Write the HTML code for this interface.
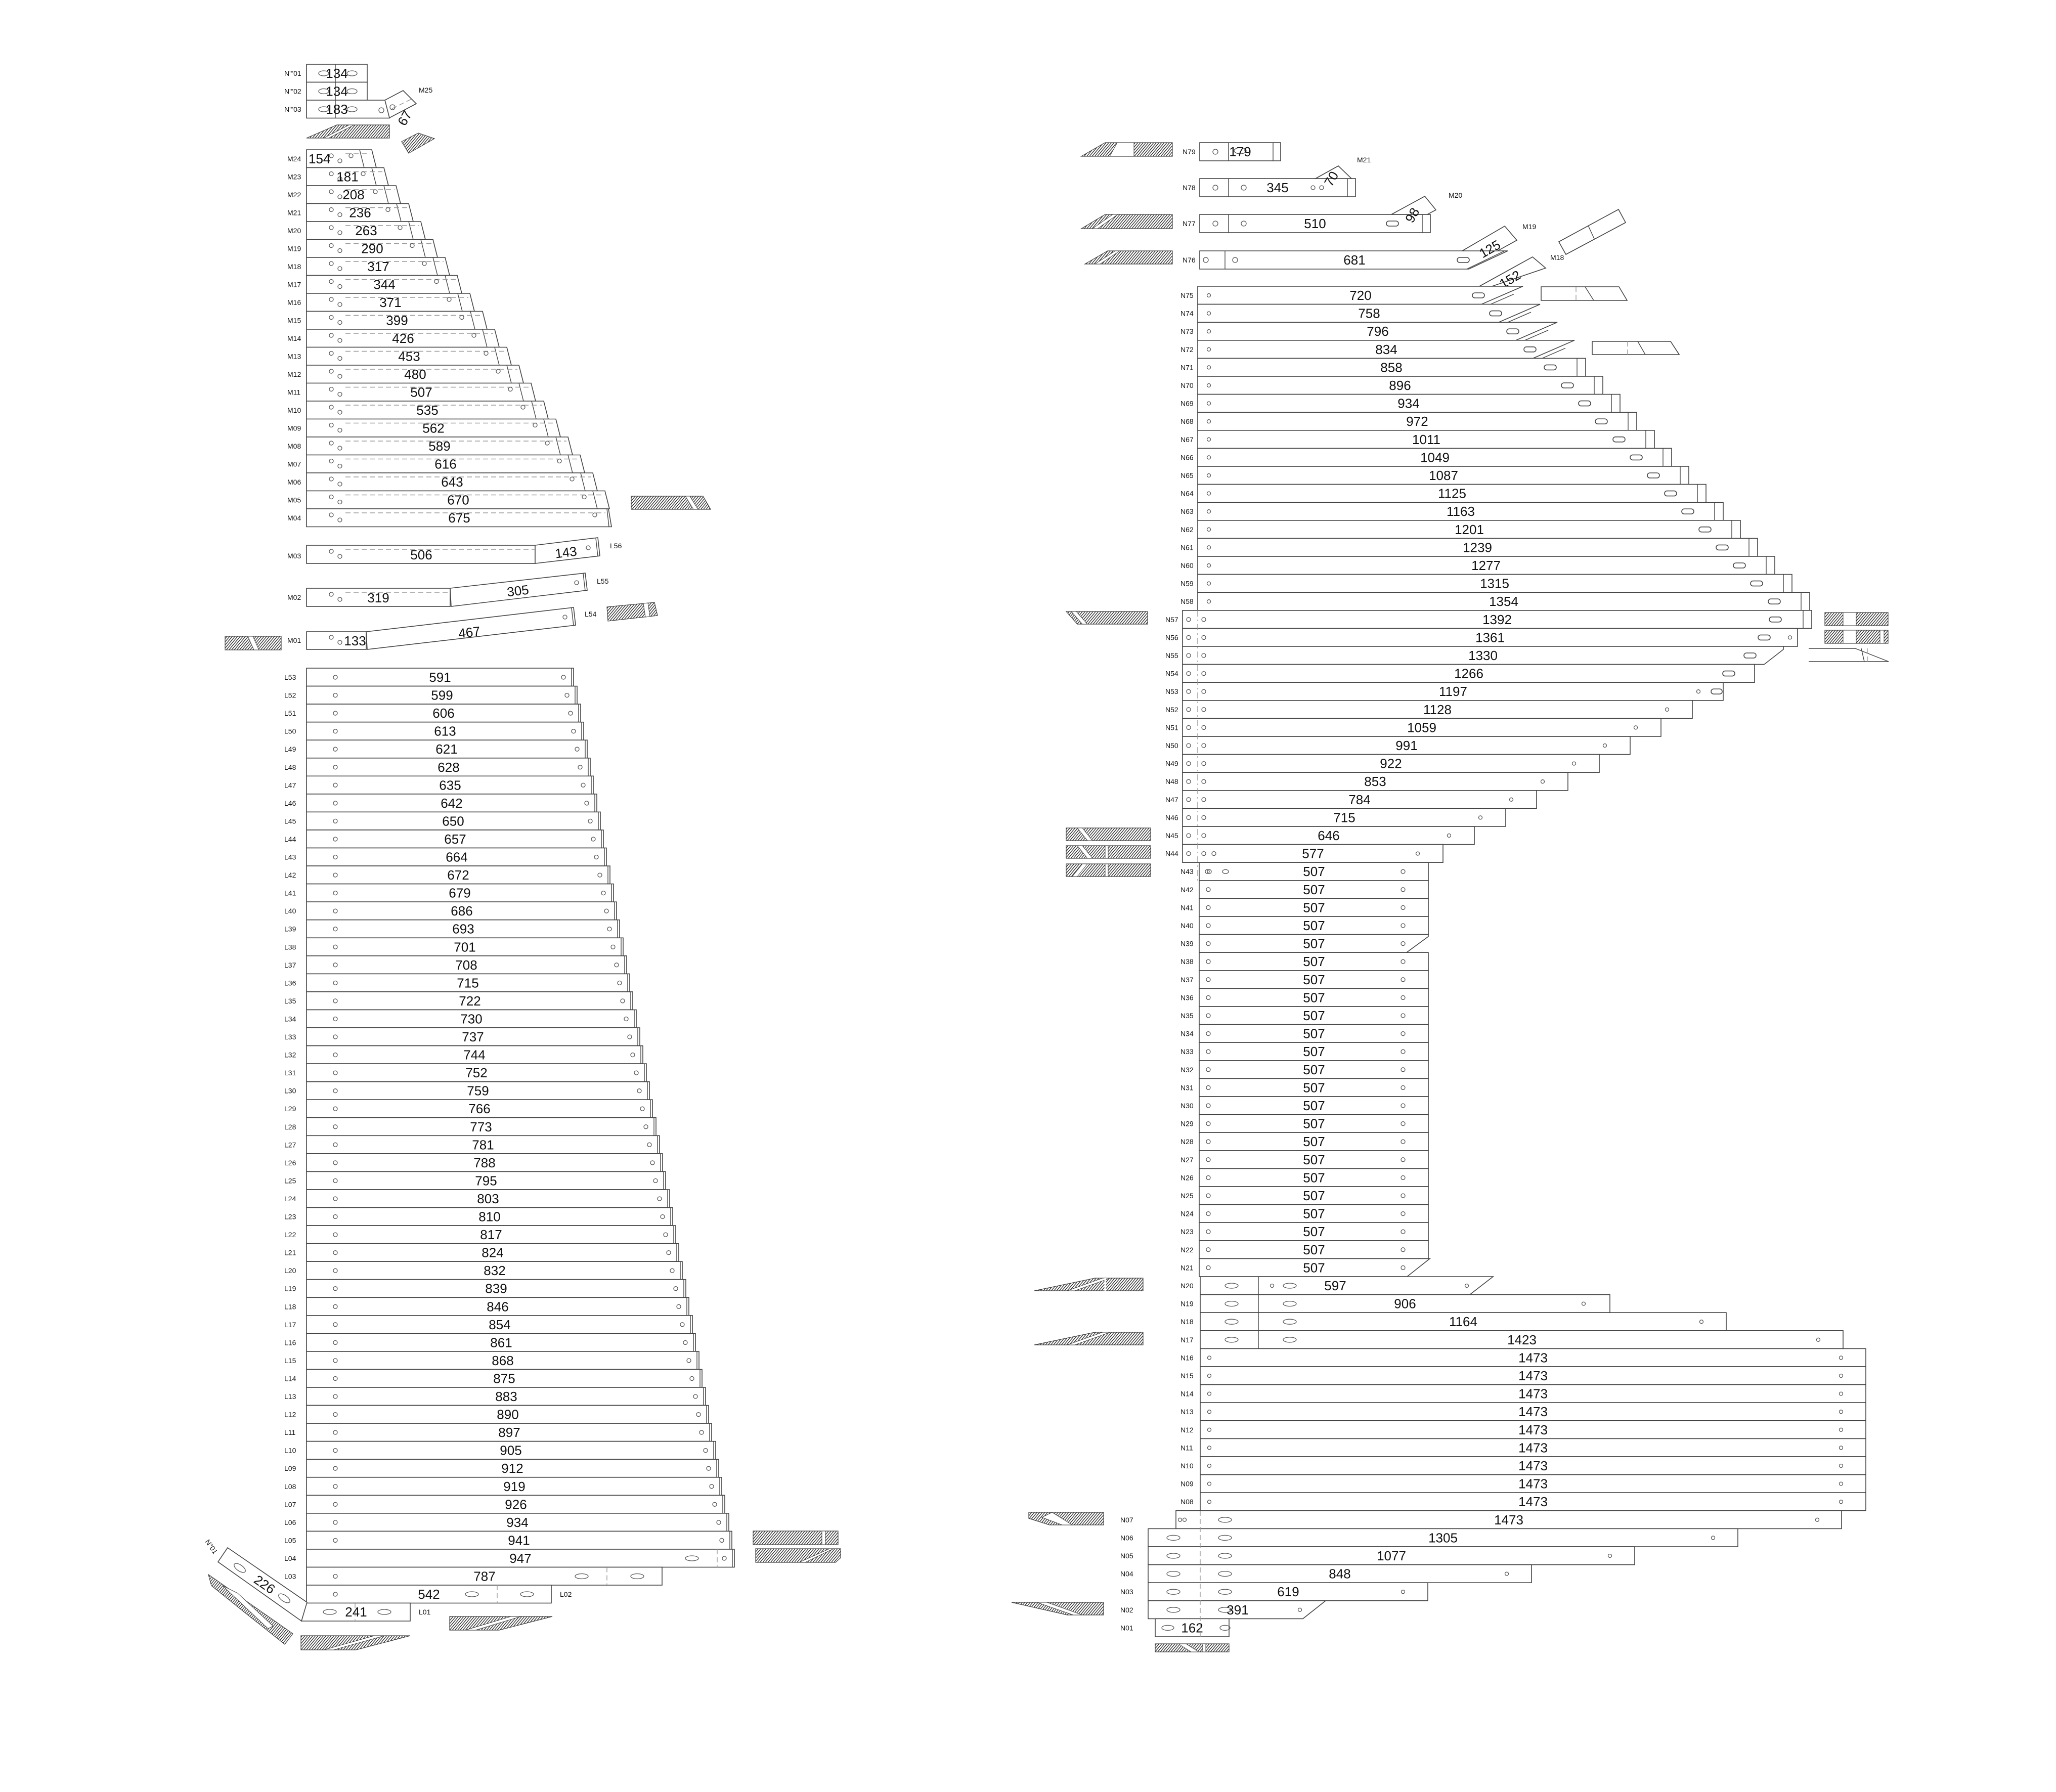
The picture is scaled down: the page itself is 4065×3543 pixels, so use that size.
<!DOCTYPE html>
<html><head><meta charset="utf-8">
<style>
html,body{margin:0;padding:0;background:#fff;}
svg{display:block;}
rect,polygon{fill:#fff;stroke:#444;stroke-width:1.6;}
line,polyline{stroke:#444;stroke-width:1.4;fill:none;}
line.d{stroke:#999;stroke-dasharray:10 6;}
circle,ellipse{fill:none;stroke:#555;stroke-width:1.3;}
.h{fill:url(#hp);stroke:#444;stroke-width:1.2;}
.w{fill:#fff;stroke:#444;stroke-width:1;}
text{font-family:"Liberation Sans",sans-serif;fill:#111;}
.n{font-size:26px;text-anchor:middle;}
.lb{font-size:14px;}
</style></head><body>
<svg width="4065" height="3543" viewBox="0 0 4065 3543" xmlns="http://www.w3.org/2000/svg">
<defs><pattern id="hp" patternUnits="userSpaceOnUse" width="4" height="4" patternTransform="rotate(40)"><rect width="4" height="4" style="fill:#fff;stroke:none"/><line x1="0" y1="0" x2="0" y2="4" style="stroke:#222;stroke-width:2.6"/></pattern></defs>

<!-- N''' rows -->
<g transform="translate(606,127)"><rect width="120" height="35.5"/><line x1="57" x2="57" y2="35.5"/><ellipse cx="34" cy="18" rx="10" ry="5"/><ellipse cx="90" cy="18" rx="10" ry="5"/><text class="n" x="60" y="27">134</text><text class="lb" x="-44" y="23">N'''01</text></g>
<g transform="translate(606,162.5)"><rect width="120" height="35.5"/><line x1="57" x2="57" y2="35.5"/><ellipse cx="34" cy="18" rx="10" ry="5"/><ellipse cx="90" cy="18" rx="10" ry="5"/><text class="n" x="60" y="27">134</text><text class="lb" x="-44" y="23">N'''02</text></g>
<g transform="translate(606,198)"><rect width="164" height="35.5"/><line x1="57" x2="57" y2="35.5"/><ellipse cx="34" cy="18" rx="10" ry="5"/><ellipse cx="90" cy="18" rx="10" ry="5"/><circle cx="148" cy="20" r="5"/><text class="n" x="60" y="27">183</text><text class="lb" x="-44" y="23">N'''03</text></g>
<polygon points="761,198 797,179 823,205 770,233"/><line class="d" x1="775" y1="215" x2="815" y2="195"/><circle cx="776" cy="212" r="5"/>
<text class="n" transform="translate(808,238) rotate(-60)" x="0" y="0">67</text>
<text class="lb" x="828" y="183">M25</text>
<polygon class="h" points="606,273 666,247 770,247 770,273"/><polygon class="w" points="640,273 690,247 700,247 650,273"/>
<polygon class="h" points="794,280 827,263 859,274 808,303"/>

<!-- M rows -->
<g transform="translate(606,296)"><polygon points="0,0 129,0 138,35.5 0,35.5"/><line x1="105" x2="114" y2="35.5"/><line class="d" x1="77" y1="8" x2="126" y2="8"/><circle cx="49" cy="12" r="4"/><circle cx="66" cy="22" r="4"/><circle cx="88" cy="12" r="4"/><text class="n" style="text-anchor:start" x="4" y="27">154</text><text class="lb" x="-38" y="23">M24</text></g>
<g transform="translate(606,331.5)"><polygon points="0,0 153,0 162,35.5 0,35.5"/><line x1="129" x2="138" y2="35.5"/><line class="d" x1="77" y1="8" x2="150" y2="8"/><circle cx="49" cy="12" r="4"/><circle cx="66" cy="22" r="4"/><circle cx="112" cy="12" r="4"/><text class="n" x="81" y="27">181</text><text class="lb" x="-38" y="23">M23</text></g>
<g transform="translate(606,367)"><polygon points="0,0 177,0 186,35.5 0,35.5"/><line x1="153" x2="162" y2="35.5"/><line class="d" x1="77" y1="8" x2="174" y2="8"/><circle cx="49" cy="12" r="4"/><circle cx="66" cy="22" r="4"/><circle cx="136" cy="12" r="4"/><text class="n" x="93" y="27">208</text><text class="lb" x="-38" y="23">M22</text></g>
<g transform="translate(606,402.5)"><polygon points="0,0 202,0 211,35.5 0,35.5"/><line x1="178" x2="187" y2="35.5"/><line class="d" x1="77" y1="8" x2="199" y2="8"/><circle cx="49" cy="12" r="4"/><circle cx="66" cy="22" r="4"/><circle cx="161" cy="12" r="4"/><text class="n" x="106" y="27">236</text><text class="lb" x="-38" y="23">M21</text></g>
<g transform="translate(606,438)"><polygon points="0,0 226,0 235,35.5 0,35.5"/><line x1="202" x2="211" y2="35.5"/><line class="d" x1="77" y1="8" x2="223" y2="8"/><circle cx="49" cy="12" r="4"/><circle cx="66" cy="22" r="4"/><circle cx="185" cy="12" r="4"/><text class="n" x="118" y="27">263</text><text class="lb" x="-38" y="23">M20</text></g>
<g transform="translate(606,473.5)"><polygon points="0,0 250,0 259,35.5 0,35.5"/><line x1="226" x2="235" y2="35.5"/><line class="d" x1="77" y1="8" x2="247" y2="8"/><circle cx="49" cy="12" r="4"/><circle cx="66" cy="22" r="4"/><circle cx="209" cy="12" r="4"/><text class="n" x="130" y="27">290</text><text class="lb" x="-38" y="23">M19</text></g>
<g transform="translate(606,509)"><polygon points="0,0 274,0 283,35.5 0,35.5"/><line x1="250" x2="259" y2="35.5"/><line class="d" x1="77" y1="8" x2="271" y2="8"/><circle cx="49" cy="12" r="4"/><circle cx="66" cy="22" r="4"/><circle cx="233" cy="12" r="4"/><text class="n" x="142" y="27">317</text><text class="lb" x="-38" y="23">M18</text></g>
<g transform="translate(606,544.5)"><polygon points="0,0 298,0 307,35.5 0,35.5"/><line x1="274" x2="283" y2="35.5"/><line class="d" x1="77" y1="8" x2="295" y2="8"/><circle cx="49" cy="12" r="4"/><circle cx="66" cy="22" r="4"/><circle cx="257" cy="12" r="4"/><text class="n" x="154" y="27">344</text><text class="lb" x="-38" y="23">M17</text></g>
<g transform="translate(606,580)"><polygon points="0,0 323,0 332,35.5 0,35.5"/><line x1="299" x2="308" y2="35.5"/><line class="d" x1="77" y1="8" x2="320" y2="8"/><circle cx="49" cy="12" r="4"/><circle cx="66" cy="22" r="4"/><circle cx="282" cy="12" r="4"/><text class="n" x="166" y="27">371</text><text class="lb" x="-38" y="23">M16</text></g>
<g transform="translate(606,615.5)"><polygon points="0,0 348,0 357,35.5 0,35.5"/><line x1="324" x2="333" y2="35.5"/><line class="d" x1="77" y1="8" x2="345" y2="8"/><circle cx="49" cy="12" r="4"/><circle cx="66" cy="22" r="4"/><circle cx="307" cy="12" r="4"/><text class="n" x="179" y="27">399</text><text class="lb" x="-38" y="23">M15</text></g>
<g transform="translate(606,651)"><polygon points="0,0 372,0 381,35.5 0,35.5"/><line x1="348" x2="357" y2="35.5"/><line class="d" x1="77" y1="8" x2="369" y2="8"/><circle cx="49" cy="12" r="4"/><circle cx="66" cy="22" r="4"/><circle cx="331" cy="12" r="4"/><text class="n" x="191" y="27">426</text><text class="lb" x="-38" y="23">M14</text></g>
<g transform="translate(606,686.5)"><polygon points="0,0 396,0 405,35.5 0,35.5"/><line x1="372" x2="381" y2="35.5"/><line class="d" x1="77" y1="8" x2="393" y2="8"/><circle cx="49" cy="12" r="4"/><circle cx="66" cy="22" r="4"/><circle cx="355" cy="12" r="4"/><text class="n" x="203" y="27">453</text><text class="lb" x="-38" y="23">M13</text></g>
<g transform="translate(606,722)"><polygon points="0,0 420,0 429,35.5 0,35.5"/><line x1="396" x2="405" y2="35.5"/><line class="d" x1="77" y1="8" x2="417" y2="8"/><circle cx="49" cy="12" r="4"/><circle cx="66" cy="22" r="4"/><circle cx="379" cy="12" r="4"/><text class="n" x="215" y="27">480</text><text class="lb" x="-38" y="23">M12</text></g>
<g transform="translate(606,757.5)"><polygon points="0,0 444,0 453,35.5 0,35.5"/><line x1="420" x2="429" y2="35.5"/><line class="d" x1="77" y1="8" x2="441" y2="8"/><circle cx="49" cy="12" r="4"/><circle cx="66" cy="22" r="4"/><circle cx="403" cy="12" r="4"/><text class="n" x="227" y="27">507</text><text class="lb" x="-38" y="23">M11</text></g>
<g transform="translate(606,793)"><polygon points="0,0 469,0 478,35.5 0,35.5"/><line x1="445" x2="454" y2="35.5"/><line class="d" x1="77" y1="8" x2="466" y2="8"/><circle cx="49" cy="12" r="4"/><circle cx="66" cy="22" r="4"/><circle cx="428" cy="12" r="4"/><text class="n" x="239" y="27">535</text><text class="lb" x="-38" y="23">M10</text></g>
<g transform="translate(606,828.5)"><polygon points="0,0 493,0 502,35.5 0,35.5"/><line x1="469" x2="478" y2="35.5"/><line class="d" x1="77" y1="8" x2="490" y2="8"/><circle cx="49" cy="12" r="4"/><circle cx="66" cy="22" r="4"/><circle cx="452" cy="12" r="4"/><text class="n" x="251" y="27">562</text><text class="lb" x="-38" y="23">M09</text></g>
<g transform="translate(606,864)"><polygon points="0,0 517,0 526,35.5 0,35.5"/><line x1="493" x2="502" y2="35.5"/><line class="d" x1="77" y1="8" x2="514" y2="8"/><circle cx="49" cy="12" r="4"/><circle cx="66" cy="22" r="4"/><circle cx="476" cy="12" r="4"/><text class="n" x="263" y="27">589</text><text class="lb" x="-38" y="23">M08</text></g>
<g transform="translate(606,899.5)"><polygon points="0,0 541,0 550,35.5 0,35.5"/><line x1="517" x2="526" y2="35.5"/><line class="d" x1="77" y1="8" x2="538" y2="8"/><circle cx="49" cy="12" r="4"/><circle cx="66" cy="22" r="4"/><circle cx="500" cy="12" r="4"/><text class="n" x="275" y="27">616</text><text class="lb" x="-38" y="23">M07</text></g>
<g transform="translate(606,935)"><polygon points="0,0 566,0 575,35.5 0,35.5"/><line x1="542" x2="551" y2="35.5"/><line class="d" x1="77" y1="8" x2="563" y2="8"/><circle cx="49" cy="12" r="4"/><circle cx="66" cy="22" r="4"/><circle cx="525" cy="12" r="4"/><text class="n" x="288" y="27">643</text><text class="lb" x="-38" y="23">M06</text></g>
<g transform="translate(606,970.5)"><polygon points="0,0 590,0 599,35.5 0,35.5"/><line x1="566" x2="575" y2="35.5"/><line class="d" x1="77" y1="8" x2="587" y2="8"/><circle cx="49" cy="12" r="4"/><circle cx="66" cy="22" r="4"/><circle cx="549" cy="12" r="4"/><text class="n" x="300" y="27">670</text><text class="lb" x="-38" y="23">M05</text></g>
<g transform="translate(606,1006)"><polygon points="0,0 597,0 603,35.5 0,35.5"/><line x1="594" x2="598" y2="35.5"/><line class="d" x1="77" y1="8" x2="591" y2="8"/><circle cx="49" cy="12" r="4"/><circle cx="66" cy="22" r="4"/><circle cx="570" cy="12" r="4"/><text class="n" x="302" y="27">675</text><text class="lb" x="-38" y="23">M04</text></g>
<polygon class="h" points="1248,981 1390,981 1405,1007 1248,1007"/><polygon class="w" points="1355,981 1364,981 1380,1007 1371,1007"/>

<!-- M03 M02 M01 -->
<rect x="606" y="1078" width="452" height="36"/><polygon points="1058,1078 1182,1063 1186,1099 1058,1114"/><line x1="1178" y1="1064" x2="1182" y2="1100"/>
<line class="d" x1="683" y1="1086" x2="1058" y2="1086"/><circle cx="655" cy="1090" r="4"/><circle cx="672" cy="1100" r="4"/><circle cx="1163" cy="1083" r="4"/>
<text class="n" x="833" y="1106">506</text><text class="n" transform="translate(1120,1101) rotate(-7)">143</text><text class="lb" x="1206" y="1084">L56</text><text class="lb" x="568" y="1104">M03</text>
<rect x="606" y="1163" width="284" height="36"/><polygon points="890,1163 1157,1133 1161,1167 892,1199"/><line x1="1153" y1="1134" x2="1157" y2="1168"/>
<line class="d" x1="683" y1="1171" x2="890" y2="1171"/><circle cx="655" cy="1175" r="4"/><circle cx="672" cy="1185" r="4"/><circle cx="1140" cy="1152" r="4"/>
<text class="n" x="748" y="1191">319</text><text class="n" transform="translate(1025,1177) rotate(-7)">305</text><text class="lb" x="1180" y="1154">L55</text><text class="lb" x="568" y="1186">M02</text>
<rect x="606" y="1249" width="118" height="35"/><polygon points="724,1249 1134,1201 1138,1236 726,1284"/><line x1="1130" y1="1202" x2="1134" y2="1237"/>
<circle cx="655" cy="1260" r="4"/><circle cx="672" cy="1270" r="4"/><circle cx="1117" cy="1220" r="4"/>
<text class="n" x="702" y="1276">133</text><text class="n" transform="translate(929,1259) rotate(-7)">467</text><text class="lb" x="1156" y="1219">L54</text><text class="lb" x="568" y="1271">M01</text>
<rect class="h" x="445" y="1258" width="111" height="27"/><polygon class="w" points="490,1258 500,1258 512,1285 502,1285"/>
<polygon class="h" points="1200,1200 1294,1191 1300,1217 1202,1228"/><polygon class="w" points="1272,1193 1281,1192 1285,1219 1276,1220"/>

<!-- L rows -->
<g transform="translate(606,1321)"><rect width="528" height="35.5"/><line x1="524" x2="524" y2="35.5"/><circle cx="57" cy="18" r="4"/><circle cx="508" cy="18" r="4"/><text class="n" x="264" y="27">591</text><text class="lb" x="-44" y="23">L53</text></g>
<g transform="translate(606,1356.6)"><rect width="535" height="35.5"/><line x1="531" x2="531" y2="35.5"/><circle cx="57" cy="18" r="4"/><circle cx="515" cy="18" r="4"/><text class="n" x="268" y="27">599</text><text class="lb" x="-44" y="23">L52</text></g>
<g transform="translate(606,1392.1)"><rect width="542" height="35.5"/><line x1="538" x2="538" y2="35.5"/><circle cx="57" cy="18" r="4"/><circle cx="522" cy="18" r="4"/><text class="n" x="271" y="27">606</text><text class="lb" x="-44" y="23">L51</text></g>
<g transform="translate(606,1427.7)"><rect width="548" height="35.5"/><line x1="544" x2="544" y2="35.5"/><circle cx="57" cy="18" r="4"/><circle cx="528" cy="18" r="4"/><text class="n" x="274" y="27">613</text><text class="lb" x="-44" y="23">L50</text></g>
<g transform="translate(606,1463.2)"><rect width="555" height="35.5"/><line x1="551" x2="551" y2="35.5"/><circle cx="57" cy="18" r="4"/><circle cx="535" cy="18" r="4"/><text class="n" x="277" y="27">621</text><text class="lb" x="-44" y="23">L49</text></g>
<g transform="translate(606,1498.8)"><rect width="561" height="35.5"/><line x1="557" x2="557" y2="35.5"/><circle cx="57" cy="18" r="4"/><circle cx="541" cy="18" r="4"/><text class="n" x="281" y="27">628</text><text class="lb" x="-44" y="23">L48</text></g>
<g transform="translate(606,1534.3)"><rect width="567" height="35.5"/><line x1="563" x2="563" y2="35.5"/><circle cx="57" cy="18" r="4"/><circle cx="547" cy="18" r="4"/><text class="n" x="284" y="27">635</text><text class="lb" x="-44" y="23">L47</text></g>
<g transform="translate(606,1569.9)"><rect width="574" height="35.5"/><line x1="570" x2="570" y2="35.5"/><circle cx="57" cy="18" r="4"/><circle cx="554" cy="18" r="4"/><text class="n" x="287" y="27">642</text><text class="lb" x="-44" y="23">L46</text></g>
<g transform="translate(606,1605.4)"><rect width="581" height="35.5"/><line x1="577" x2="577" y2="35.5"/><circle cx="57" cy="18" r="4"/><circle cx="561" cy="18" r="4"/><text class="n" x="290" y="27">650</text><text class="lb" x="-44" y="23">L45</text></g>
<g transform="translate(606,1641)"><rect width="587" height="35.5"/><line x1="583" x2="583" y2="35.5"/><circle cx="57" cy="18" r="4"/><circle cx="567" cy="18" r="4"/><text class="n" x="294" y="27">657</text><text class="lb" x="-44" y="23">L44</text></g>
<g transform="translate(606,1676.5)"><rect width="593" height="35.5"/><line x1="589" x2="589" y2="35.5"/><circle cx="57" cy="18" r="4"/><circle cx="573" cy="18" r="4"/><text class="n" x="297" y="27">664</text><text class="lb" x="-44" y="23">L43</text></g>
<g transform="translate(606,1712.1)"><rect width="600" height="35.5"/><line x1="596" x2="596" y2="35.5"/><circle cx="57" cy="18" r="4"/><circle cx="580" cy="18" r="4"/><text class="n" x="300" y="27">672</text><text class="lb" x="-44" y="23">L42</text></g>
<g transform="translate(606,1747.6)"><rect width="607" height="35.5"/><line x1="603" x2="603" y2="35.5"/><circle cx="57" cy="18" r="4"/><circle cx="587" cy="18" r="4"/><text class="n" x="303" y="27">679</text><text class="lb" x="-44" y="23">L41</text></g>
<g transform="translate(606,1783.2)"><rect width="613" height="35.5"/><line x1="609" x2="609" y2="35.5"/><circle cx="57" cy="18" r="4"/><circle cx="593" cy="18" r="4"/><text class="n" x="307" y="27">686</text><text class="lb" x="-44" y="23">L40</text></g>
<g transform="translate(606,1818.7)"><rect width="619" height="35.5"/><line x1="615" x2="615" y2="35.5"/><circle cx="57" cy="18" r="4"/><circle cx="599" cy="18" r="4"/><text class="n" x="310" y="27">693</text><text class="lb" x="-44" y="23">L39</text></g>
<g transform="translate(606,1854.3)"><rect width="626" height="35.5"/><line x1="622" x2="622" y2="35.5"/><circle cx="57" cy="18" r="4"/><circle cx="606" cy="18" r="4"/><text class="n" x="313" y="27">701</text><text class="lb" x="-44" y="23">L38</text></g>
<g transform="translate(606,1889.8)"><rect width="633" height="35.5"/><line x1="629" x2="629" y2="35.5"/><circle cx="57" cy="18" r="4"/><circle cx="613" cy="18" r="4"/><text class="n" x="316" y="27">708</text><text class="lb" x="-44" y="23">L37</text></g>
<g transform="translate(606,1925.4)"><rect width="639" height="35.5"/><line x1="635" x2="635" y2="35.5"/><circle cx="57" cy="18" r="4"/><circle cx="619" cy="18" r="4"/><text class="n" x="319" y="27">715</text><text class="lb" x="-44" y="23">L36</text></g>
<g transform="translate(606,1960.9)"><rect width="645" height="35.5"/><line x1="641" x2="641" y2="35.5"/><circle cx="57" cy="18" r="4"/><circle cx="625" cy="18" r="4"/><text class="n" x="323" y="27">722</text><text class="lb" x="-44" y="23">L35</text></g>
<g transform="translate(606,1996.5)"><rect width="652" height="35.5"/><line x1="648" x2="648" y2="35.5"/><circle cx="57" cy="18" r="4"/><circle cx="632" cy="18" r="4"/><text class="n" x="326" y="27">730</text><text class="lb" x="-44" y="23">L34</text></g>
<g transform="translate(606,2032)"><rect width="659" height="35.5"/><line x1="655" x2="655" y2="35.5"/><circle cx="57" cy="18" r="4"/><circle cx="639" cy="18" r="4"/><text class="n" x="329" y="27">737</text><text class="lb" x="-44" y="23">L33</text></g>
<g transform="translate(606,2067.6)"><rect width="665" height="35.5"/><line x1="661" x2="661" y2="35.5"/><circle cx="57" cy="18" r="4"/><circle cx="645" cy="18" r="4"/><text class="n" x="332" y="27">744</text><text class="lb" x="-44" y="23">L32</text></g>
<g transform="translate(606,2103.1)"><rect width="672" height="35.5"/><line x1="668" x2="668" y2="35.5"/><circle cx="57" cy="18" r="4"/><circle cx="652" cy="18" r="4"/><text class="n" x="336" y="27">752</text><text class="lb" x="-44" y="23">L31</text></g>
<g transform="translate(606,2138.7)"><rect width="678" height="35.5"/><line x1="674" x2="674" y2="35.5"/><circle cx="57" cy="18" r="4"/><circle cx="658" cy="18" r="4"/><text class="n" x="339" y="27">759</text><text class="lb" x="-44" y="23">L30</text></g>
<g transform="translate(606,2174.2)"><rect width="684" height="35.5"/><line x1="680" x2="680" y2="35.5"/><circle cx="57" cy="18" r="4"/><circle cx="664" cy="18" r="4"/><text class="n" x="342" y="27">766</text><text class="lb" x="-44" y="23">L29</text></g>
<g transform="translate(606,2209.8)"><rect width="691" height="35.5"/><line x1="687" x2="687" y2="35.5"/><circle cx="57" cy="18" r="4"/><circle cx="671" cy="18" r="4"/><text class="n" x="345" y="27">773</text><text class="lb" x="-44" y="23">L28</text></g>
<g transform="translate(606,2245.3)"><rect width="698" height="35.5"/><line x1="694" x2="694" y2="35.5"/><circle cx="57" cy="18" r="4"/><circle cx="678" cy="18" r="4"/><text class="n" x="349" y="27">781</text><text class="lb" x="-44" y="23">L27</text></g>
<g transform="translate(606,2280.9)"><rect width="704" height="35.5"/><line x1="700" x2="700" y2="35.5"/><circle cx="57" cy="18" r="4"/><circle cx="684" cy="18" r="4"/><text class="n" x="352" y="27">788</text><text class="lb" x="-44" y="23">L26</text></g>
<g transform="translate(606,2316.4)"><rect width="710" height="35.5"/><line x1="706" x2="706" y2="35.5"/><circle cx="57" cy="18" r="4"/><circle cx="690" cy="18" r="4"/><text class="n" x="355" y="27">795</text><text class="lb" x="-44" y="23">L25</text></g>
<g transform="translate(606,2352)"><rect width="718" height="35.5"/><line x1="714" x2="714" y2="35.5"/><circle cx="57" cy="18" r="4"/><circle cx="698" cy="18" r="4"/><text class="n" x="359" y="27">803</text><text class="lb" x="-44" y="23">L24</text></g>
<g transform="translate(606,2387.5)"><rect width="724" height="35.5"/><line x1="720" x2="720" y2="35.5"/><circle cx="57" cy="18" r="4"/><circle cx="704" cy="18" r="4"/><text class="n" x="362" y="27">810</text><text class="lb" x="-44" y="23">L23</text></g>
<g transform="translate(606,2423.1)"><rect width="730" height="35.5"/><line x1="726" x2="726" y2="35.5"/><circle cx="57" cy="18" r="4"/><circle cx="710" cy="18" r="4"/><text class="n" x="365" y="27">817</text><text class="lb" x="-44" y="23">L22</text></g>
<g transform="translate(606,2458.6)"><rect width="736" height="35.5"/><line x1="732" x2="732" y2="35.5"/><circle cx="57" cy="18" r="4"/><circle cx="716" cy="18" r="4"/><text class="n" x="368" y="27">824</text><text class="lb" x="-44" y="23">L21</text></g>
<g transform="translate(606,2494.2)"><rect width="743" height="35.5"/><line x1="739" x2="739" y2="35.5"/><circle cx="57" cy="18" r="4"/><circle cx="723" cy="18" r="4"/><text class="n" x="372" y="27">832</text><text class="lb" x="-44" y="23">L20</text></g>
<g transform="translate(606,2529.7)"><rect width="750" height="35.5"/><line x1="746" x2="746" y2="35.5"/><circle cx="57" cy="18" r="4"/><circle cx="730" cy="18" r="4"/><text class="n" x="375" y="27">839</text><text class="lb" x="-44" y="23">L19</text></g>
<g transform="translate(606,2565.3)"><rect width="756" height="35.5"/><line x1="752" x2="752" y2="35.5"/><circle cx="57" cy="18" r="4"/><circle cx="736" cy="18" r="4"/><text class="n" x="378" y="27">846</text><text class="lb" x="-44" y="23">L18</text></g>
<g transform="translate(606,2600.8)"><rect width="763" height="35.5"/><line x1="759" x2="759" y2="35.5"/><circle cx="57" cy="18" r="4"/><circle cx="743" cy="18" r="4"/><text class="n" x="382" y="27">854</text><text class="lb" x="-44" y="23">L17</text></g>
<g transform="translate(606,2636.4)"><rect width="769" height="35.5"/><line x1="765" x2="765" y2="35.5"/><circle cx="57" cy="18" r="4"/><circle cx="749" cy="18" r="4"/><text class="n" x="385" y="27">861</text><text class="lb" x="-44" y="23">L16</text></g>
<g transform="translate(606,2671.9)"><rect width="776" height="35.5"/><line x1="772" x2="772" y2="35.5"/><circle cx="57" cy="18" r="4"/><circle cx="756" cy="18" r="4"/><text class="n" x="388" y="27">868</text><text class="lb" x="-44" y="23">L15</text></g>
<g transform="translate(606,2707.5)"><rect width="782" height="35.5"/><line x1="778" x2="778" y2="35.5"/><circle cx="57" cy="18" r="4"/><circle cx="762" cy="18" r="4"/><text class="n" x="391" y="27">875</text><text class="lb" x="-44" y="23">L14</text></g>
<g transform="translate(606,2743)"><rect width="789" height="35.5"/><line x1="785" x2="785" y2="35.5"/><circle cx="57" cy="18" r="4"/><circle cx="769" cy="18" r="4"/><text class="n" x="395" y="27">883</text><text class="lb" x="-44" y="23">L13</text></g>
<g transform="translate(606,2778.6)"><rect width="795" height="35.5"/><line x1="791" x2="791" y2="35.5"/><circle cx="57" cy="18" r="4"/><circle cx="775" cy="18" r="4"/><text class="n" x="398" y="27">890</text><text class="lb" x="-44" y="23">L12</text></g>
<g transform="translate(606,2814.1)"><rect width="801" height="35.5"/><line x1="797" x2="797" y2="35.5"/><circle cx="57" cy="18" r="4"/><circle cx="781" cy="18" r="4"/><text class="n" x="401" y="27">897</text><text class="lb" x="-44" y="23">L11</text></g>
<g transform="translate(606,2849.7)"><rect width="809" height="35.5"/><line x1="805" x2="805" y2="35.5"/><circle cx="57" cy="18" r="4"/><circle cx="789" cy="18" r="4"/><text class="n" x="404" y="27">905</text><text class="lb" x="-44" y="23">L10</text></g>
<g transform="translate(606,2885.2)"><rect width="815" height="35.5"/><line x1="811" x2="811" y2="35.5"/><circle cx="57" cy="18" r="4"/><circle cx="795" cy="18" r="4"/><text class="n" x="407" y="27">912</text><text class="lb" x="-44" y="23">L09</text></g>
<g transform="translate(606,2920.8)"><rect width="821" height="35.5"/><line x1="817" x2="817" y2="35.5"/><circle cx="57" cy="18" r="4"/><circle cx="801" cy="18" r="4"/><text class="n" x="411" y="27">919</text><text class="lb" x="-44" y="23">L08</text></g>
<g transform="translate(606,2956.3)"><rect width="827" height="35.5"/><line x1="823" x2="823" y2="35.5"/><circle cx="57" cy="18" r="4"/><circle cx="807" cy="18" r="4"/><text class="n" x="414" y="27">926</text><text class="lb" x="-44" y="23">L07</text></g>
<g transform="translate(606,2991.9)"><rect width="835" height="35.5"/><line x1="831" x2="831" y2="35.5"/><circle cx="57" cy="18" r="4"/><circle cx="815" cy="18" r="4"/><text class="n" x="417" y="27">934</text><text class="lb" x="-44" y="23">L06</text></g>
<g transform="translate(606,3027.4)"><rect width="841" height="35.5"/><line x1="837" x2="837" y2="35.5"/><circle cx="57" cy="18" r="4"/><circle cx="821" cy="18" r="4"/><text class="n" x="420" y="27">941</text><text class="lb" x="-44" y="23">L05</text></g>
<g transform="translate(606,3063)"><rect width="846" height="35.5"/><line x1="842" x2="842" y2="35.5"/><line class="d" x1="812" x2="812" y2="35.5"/><ellipse cx="762" cy="18" rx="13" ry="5"/><circle cx="826" cy="18" r="4"/><text class="n" x="423" y="27">947</text><text class="lb" x="-44" y="23">L04</text></g>
<g transform="translate(606,3098.5)"><rect width="703" height="35.5"/><line class="d" x1="594" x2="594" y2="35.5"/><ellipse cx="544" cy="18" rx="13" ry="5"/><ellipse cx="654" cy="18" rx="13" ry="5"/><circle cx="57" cy="18" r="4"/><text class="n" x="352" y="27">787</text><text class="lb" x="-44" y="23">L03</text></g>
<g transform="translate(606,3134)"><rect width="484" height="35.5"/><line class="d" x1="377" x2="377" y2="35.5"/><ellipse cx="327" cy="18" rx="13" ry="5"/><ellipse cx="436" cy="18" rx="13" ry="5"/><circle cx="57" cy="18" r="4"/><text class="n" x="242" y="27">542</text><text class="lb" x="501" y="23">L02</text></g>
<polygon points="606,3169.5 811,3169.5 811,3205 596,3205"/><line class="d" x1="702" y1="3169.5" x2="702" y2="3205"/><ellipse cx="652" cy="3187" rx="13" ry="5"/><ellipse cx="760" cy="3187" rx="13" ry="5"/>
<text class="n" x="704" y="3196">241</text><text class="lb" x="828" y="3192">L01</text>
<polygon points="450,3060 607,3168 596,3205 431,3088"/><ellipse cx="474" cy="3100" rx="13" ry="6" transform="rotate(34.5 474 3100)"/><ellipse cx="562" cy="3160" rx="13" ry="6" transform="rotate(34.5 562 3160)"/>
<text class="n" transform="translate(518,3140) rotate(34.5)">226</text><text class="lb" transform="translate(405,3048) rotate(55)">N°01</text>
<polygon class="h" points="1489,3027 1657,3027 1657,3054 1489,3054"/><polygon class="w" points="1625,3027 1632,3027 1632,3054 1625,3054"/>
<polygon class="h" points="1494,3062 1662,3062 1662,3080 1652,3089 1494,3089"/><polygon class="w" points="1580,3089 1640,3062 1648,3062 1592,3089"/>
<polygon class="h" points="412,3113 579,3230 563,3251 480,3185 418,3135"/><polygon class="w" points="440,3135 470,3150 540,3215 530,3220"/>
<polygon class="h" points="595,3234 811,3234 704,3262 595,3262"/><polygon class="w" points="740,3234 760,3234 660,3262 640,3262"/>
<polygon class="h" points="889,3196 1092,3196 987,3223 889,3223"/><polygon class="w" points="1010,3196 1030,3196 940,3223 920,3223"/>

<!-- Right top N79-N76 -->
<g transform="translate(2372,282)"><rect width="160" height="36"/><line x1="57" x2="57" y2="36"/><line x1="145" x2="145" y2="36"/><circle cx="31" cy="18" r="5"/><ellipse cx="80" cy="16" rx="12" ry="6"/><text class="n" x="80" y="27">179</text><text class="lb" x="-34" y="23">N79</text></g>
<g transform="translate(2372,353)"><rect width="308" height="36"/><line x1="57" x2="57" y2="36"/><line x1="292" x2="292" y2="36"/><circle cx="31" cy="18" r="5"/><circle cx="87" cy="18" r="5"/><circle cx="224" cy="18" r="4"/><circle cx="241" cy="18" r="4"/><text class="n" x="154" y="27">345</text><text class="lb" x="-34" y="23">N78</text></g>
<g transform="translate(2372,424)"><rect width="456" height="36"/><line x1="57" x2="57" y2="36"/><line x1="440" x2="440" y2="36"/><circle cx="31" cy="18" r="5"/><circle cx="87" cy="18" r="5"/><rect x="369" y="13" width="24" height="10" rx="5"/><text class="n" x="228" y="27">510</text><text class="lb" x="-34" y="23">N77</text></g>
<g transform="translate(2372,496)"><polygon points="0,0 609,0 532,36 0,36"/><line x1="50" x2="50" y2="36"/><circle cx="12" cy="18" r="5"/><circle cx="70" cy="18" r="5"/><rect x="509" y="13" width="24" height="10" rx="5"/><text class="n" x="306" y="27">681</text><text class="lb" x="-34" y="23">N76</text></g>
<polygon points="2601,353 2646,328 2672,353"/><text class="n" transform="translate(2640,358) rotate(-60)">70</text><text class="lb" x="2683" y="321">M21</text>
<polygon points="2751,424 2817,388 2839,415 2822,424"/><text class="n" transform="translate(2800,430) rotate(-60)">98</text><text class="lb" x="2864" y="391">M20</text>
<polygon points="2891,496 2975,447 2999,475 2961,496"/><line x1="2900" y1="532" x2="2975" y2="496"/><text class="n" transform="translate(2950,500) rotate(-30)">125</text><text class="lb" x="3010" y="453">M19</text>
<polygon points="2925,566 3030,508 3056,530 2950,566"/><text class="n" transform="translate(2990,560) rotate(-30)">152</text><text class="lb" x="3065" y="514">M18</text>
<polygon points="3082,478 3200,414 3214,440 3096,503"/><line x1="3140" y1="446" x2="3152" y2="472"/>
<polygon points="3047,567 3201,567 3217,594 3047,594"/><line class="d" x1="3116" y1="567" x2="3116" y2="594"/><line x1="3134" y1="567" x2="3151" y2="594"/>
<polygon points="3148,675 3303,675 3320,701 3148,701"/><line class="d" x1="3218" y1="675" x2="3218" y2="701"/><line x1="3238" y1="675" x2="3253" y2="701"/>
<polygon class="h" points="2138,309 2185,282 2318,282 2318,309"/><polygon class="w" points="2209,282 2242,282 2242,309 2194,309"/>
<polygon class="h" points="2138,452 2185,424 2318,424 2318,452"/><polygon class="w" points="2160,452 2200,424 2210,424 2170,452"/>
<polygon class="h" points="2145,522 2190,496 2318,496 2318,522"/><polygon class="w" points="2165,522 2205,496 2214,496 2175,522"/>

<!-- N75-N72 -->
<g transform="translate(2368,566)"><polygon points="0,0 643,0 561,35.6 0,35.6"/><line x1="579" y1="35.6" x2="625" y2="15.6"/><circle cx="22" cy="18" r="3.5"/><rect x="543" y="13" width="24" height="10" rx="5"/><text class="n" x="322" y="27">720</text><text class="lb" x="-34" y="23">N75</text></g>
<g transform="translate(2368,601.6)"><polygon points="0,0 677,0 595,35.6 0,35.6"/><line x1="613" y1="35.6" x2="659" y2="15.6"/><circle cx="22" cy="18" r="3.5"/><rect x="577" y="13" width="24" height="10" rx="5"/><text class="n" x="339" y="27">758</text><text class="lb" x="-34" y="23">N74</text></g>
<g transform="translate(2368,637.2)"><polygon points="0,0 711,0 629,35.6 0,35.6"/><line x1="647" y1="35.6" x2="693" y2="15.6"/><circle cx="22" cy="18" r="3.5"/><rect x="611" y="13" width="24" height="10" rx="5"/><text class="n" x="356" y="27">796</text><text class="lb" x="-34" y="23">N73</text></g>
<g transform="translate(2368,672.8)"><polygon points="0,0 745,0 663,35.6 0,35.6"/><line x1="681" y1="35.6" x2="727" y2="15.6"/><circle cx="22" cy="18" r="3.5"/><rect x="645" y="13" width="24" height="10" rx="5"/><text class="n" x="373" y="27">834</text><text class="lb" x="-34" y="23">N72</text></g>
<!-- N71-N58 -->
<g transform="translate(2368,708.4)"><rect width="767" height="35.6"/><line x1="750" x2="750" y2="35.6"/><circle cx="22" cy="18" r="3.5"/><rect x="685" y="13" width="24" height="10" rx="5"/><text class="n" x="383" y="27">858</text><text class="lb" x="-34" y="23">N71</text></g>
<g transform="translate(2368,744)"><rect width="801" height="35.6"/><line x1="784" x2="784" y2="35.6"/><circle cx="22" cy="18" r="3.5"/><rect x="719" y="13" width="24" height="10" rx="5"/><text class="n" x="400" y="27">896</text><text class="lb" x="-34" y="23">N70</text></g>
<g transform="translate(2368,779.6)"><rect width="835" height="35.6"/><line x1="818" x2="818" y2="35.6"/><circle cx="22" cy="18" r="3.5"/><rect x="753" y="13" width="24" height="10" rx="5"/><text class="n" x="417" y="27">934</text><text class="lb" x="-34" y="23">N69</text></g>
<g transform="translate(2368,815.2)"><rect width="868" height="35.6"/><line x1="851" x2="851" y2="35.6"/><circle cx="22" cy="18" r="3.5"/><rect x="786" y="13" width="24" height="10" rx="5"/><text class="n" x="434" y="27">972</text><text class="lb" x="-34" y="23">N68</text></g>
<g transform="translate(2368,850.8)"><rect width="903" height="35.6"/><line x1="886" x2="886" y2="35.6"/><circle cx="22" cy="18" r="3.5"/><rect x="821" y="13" width="24" height="10" rx="5"/><text class="n" x="452" y="27">1011</text><text class="lb" x="-34" y="23">N67</text></g>
<g transform="translate(2368,886.4)"><rect width="937" height="35.6"/><line x1="920" x2="920" y2="35.6"/><circle cx="22" cy="18" r="3.5"/><rect x="855" y="13" width="24" height="10" rx="5"/><text class="n" x="469" y="27">1049</text><text class="lb" x="-34" y="23">N66</text></g>
<g transform="translate(2368,922)"><rect width="971" height="35.6"/><line x1="954" x2="954" y2="35.6"/><circle cx="22" cy="18" r="3.5"/><rect x="889" y="13" width="24" height="10" rx="5"/><text class="n" x="486" y="27">1087</text><text class="lb" x="-34" y="23">N65</text></g>
<g transform="translate(2368,957.6)"><rect width="1005" height="35.6"/><line x1="988" x2="988" y2="35.6"/><circle cx="22" cy="18" r="3.5"/><rect x="923" y="13" width="24" height="10" rx="5"/><text class="n" x="503" y="27">1125</text><text class="lb" x="-34" y="23">N64</text></g>
<g transform="translate(2368,993.2)"><rect width="1039" height="35.6"/><line x1="1022" x2="1022" y2="35.6"/><circle cx="22" cy="18" r="3.5"/><rect x="957" y="13" width="24" height="10" rx="5"/><text class="n" x="520" y="27">1163</text><text class="lb" x="-34" y="23">N63</text></g>
<g transform="translate(2368,1028.8)"><rect width="1073" height="35.6"/><line x1="1056" x2="1056" y2="35.6"/><circle cx="22" cy="18" r="3.5"/><rect x="991" y="13" width="24" height="10" rx="5"/><text class="n" x="537" y="27">1201</text><text class="lb" x="-34" y="23">N62</text></g>
<g transform="translate(2368,1064.4)"><rect width="1107" height="35.6"/><line x1="1090" x2="1090" y2="35.6"/><circle cx="22" cy="18" r="3.5"/><rect x="1025" y="13" width="24" height="10" rx="5"/><text class="n" x="553" y="27">1239</text><text class="lb" x="-34" y="23">N61</text></g>
<g transform="translate(2368,1100)"><rect width="1141" height="35.6"/><line x1="1124" x2="1124" y2="35.6"/><circle cx="22" cy="18" r="3.5"/><rect x="1059" y="13" width="24" height="10" rx="5"/><text class="n" x="570" y="27">1277</text><text class="lb" x="-34" y="23">N60</text></g>
<g transform="translate(2368,1135.6)"><rect width="1175" height="35.6"/><line x1="1158" x2="1158" y2="35.6"/><circle cx="22" cy="18" r="3.5"/><rect x="1093" y="13" width="24" height="10" rx="5"/><text class="n" x="587" y="27">1315</text><text class="lb" x="-34" y="23">N59</text></g>
<g transform="translate(2368,1171.2)"><rect width="1210" height="35.6"/><line x1="1193" x2="1193" y2="35.6"/><circle cx="22" cy="18" r="3.5"/><rect x="1128" y="13" width="24" height="10" rx="5"/><text class="n" x="605" y="27">1354</text><text class="lb" x="-34" y="23">N58</text></g>
<!-- N57-N44 -->
<g transform="translate(2338,1206.8)"><rect width="1244" height="35.6"/><line x1="1227" x2="1227" y2="35.6"/><circle cx="12" cy="18" r="4"/><circle cx="42" cy="18" r="4"/><rect x="1160" y="13" width="24" height="10" rx="5"/><text class="n" x="622" y="27">1392</text><text class="lb" x="-34" y="23">N57</text></g>
<g transform="translate(2338,1242.4)"><rect width="1216" height="35.6"/><circle cx="12" cy="18" r="4"/><circle cx="42" cy="18" r="4"/><rect x="1138" y="13" width="24" height="10" rx="5"/><circle cx="1201" cy="18" r="3.5"/><text class="n" x="608" y="27">1361</text><text class="lb" x="-34" y="23">N56</text></g>
<g transform="translate(2338,1278)"><polygon points="0,0 1188,0 1188,6 1150,35.6 0,35.6"/><circle cx="12" cy="18" r="4"/><circle cx="42" cy="18" r="4"/><rect x="1110" y="13" width="24" height="10" rx="5"/><text class="n" x="594" y="27">1330</text><text class="lb" x="-34" y="23">N55</text></g>
<g transform="translate(2338,1313.6)"><rect width="1131" height="35.6"/><circle cx="12" cy="18" r="4"/><circle cx="42" cy="18" r="4"/><rect x="1068" y="13" width="24" height="10" rx="5"/><text class="n" x="566" y="27">1266</text><text class="lb" x="-34" y="23">N54</text></g>
<g transform="translate(2338,1349.2)"><rect width="1069" height="35.6"/><circle cx="12" cy="18" r="4"/><circle cx="42" cy="18" r="4"/><circle cx="1020" cy="18" r="3.5"/><rect x="1045" y="13" width="22" height="10" rx="5"/><text class="n" x="535" y="27">1197</text><text class="lb" x="-34" y="23">N53</text></g>
<g transform="translate(2338,1384.8)"><rect width="1008" height="35.6"/><circle cx="12" cy="18" r="4"/><circle cx="42" cy="18" r="4"/><circle cx="958" cy="18" r="3.5"/><text class="n" x="504" y="27">1128</text><text class="lb" x="-34" y="23">N52</text></g>
<g transform="translate(2338,1420.4)"><rect width="946" height="35.6"/><circle cx="12" cy="18" r="4"/><circle cx="42" cy="18" r="4"/><circle cx="896" cy="18" r="3.5"/><text class="n" x="473" y="27">1059</text><text class="lb" x="-34" y="23">N51</text></g>
<g transform="translate(2338,1456)"><rect width="885" height="35.6"/><circle cx="12" cy="18" r="4"/><circle cx="42" cy="18" r="4"/><circle cx="835" cy="18" r="3.5"/><text class="n" x="443" y="27">991</text><text class="lb" x="-34" y="23">N50</text></g>
<g transform="translate(2338,1491.6)"><rect width="824" height="35.6"/><circle cx="12" cy="18" r="4"/><circle cx="42" cy="18" r="4"/><circle cx="774" cy="18" r="3.5"/><text class="n" x="412" y="27">922</text><text class="lb" x="-34" y="23">N49</text></g>
<g transform="translate(2338,1527.2)"><rect width="762" height="35.6"/><circle cx="12" cy="18" r="4"/><circle cx="42" cy="18" r="4"/><circle cx="712" cy="18" r="3.5"/><text class="n" x="381" y="27">853</text><text class="lb" x="-34" y="23">N48</text></g>
<g transform="translate(2338,1562.8)"><rect width="700" height="35.6"/><circle cx="12" cy="18" r="4"/><circle cx="42" cy="18" r="4"/><circle cx="650" cy="18" r="3.5"/><text class="n" x="350" y="27">784</text><text class="lb" x="-34" y="23">N47</text></g>
<g transform="translate(2338,1598.4)"><rect width="639" height="35.6"/><circle cx="12" cy="18" r="4"/><circle cx="42" cy="18" r="4"/><circle cx="589" cy="18" r="3.5"/><text class="n" x="320" y="27">715</text><text class="lb" x="-34" y="23">N46</text></g>
<g transform="translate(2338,1634)"><rect width="577" height="35.6"/><circle cx="12" cy="18" r="4"/><circle cx="42" cy="18" r="4"/><circle cx="527" cy="18" r="3.5"/><text class="n" x="289" y="27">646</text><text class="lb" x="-34" y="23">N45</text></g>
<g transform="translate(2338,1669.6)"><rect width="515" height="35.6"/><circle cx="12" cy="18" r="4"/><circle cx="42" cy="18" r="4"/><circle cx="62" cy="18" r="4"/><circle cx="465" cy="18" r="3.5"/><text class="n" x="258" y="27">577</text><text class="lb" x="-34" y="23">N44</text></g>
<!-- N43-N21 -->
<g transform="translate(2371,1705.2)"><rect width="453" height="35.6"/><circle cx="16" cy="18" r="4"/><circle cx="20" cy="18" r="4"/><ellipse cx="52" cy="18" rx="6" ry="4"/><circle cx="403" cy="18" r="4"/><text class="n" x="227" y="27">507</text><text class="lb" x="-37" y="23">N43</text></g>
<g transform="translate(2371,1740.8)"><rect width="453" height="35.6"/><circle cx="18" cy="18" r="4"/><circle cx="403" cy="18" r="4"/><text class="n" x="227" y="27">507</text><text class="lb" x="-37" y="23">N42</text></g>
<g transform="translate(2371,1776.4)"><rect width="453" height="35.6"/><circle cx="18" cy="18" r="4"/><circle cx="403" cy="18" r="4"/><text class="n" x="227" y="27">507</text><text class="lb" x="-37" y="23">N41</text></g>
<g transform="translate(2371,1812)"><rect width="453" height="35.6"/><circle cx="18" cy="18" r="4"/><circle cx="403" cy="18" r="4"/><text class="n" x="227" y="27">507</text><text class="lb" x="-37" y="23">N40</text></g>
<g transform="translate(2371,1847.6)"><polygon points="0,0 453,0 453,4 410,35.6 0,35.6"/><circle cx="18" cy="18" r="4"/><circle cx="403" cy="18" r="4"/><text class="n" x="227" y="27">507</text><text class="lb" x="-37" y="23">N39</text></g>
<g transform="translate(2371,1883.2)"><rect width="453" height="35.6"/><circle cx="18" cy="18" r="4"/><circle cx="403" cy="18" r="4"/><text class="n" x="227" y="27">507</text><text class="lb" x="-37" y="23">N38</text></g>
<g transform="translate(2371,1918.8)"><rect width="453" height="35.6"/><circle cx="18" cy="18" r="4"/><circle cx="403" cy="18" r="4"/><text class="n" x="227" y="27">507</text><text class="lb" x="-37" y="23">N37</text></g>
<g transform="translate(2371,1954.4)"><rect width="453" height="35.6"/><circle cx="18" cy="18" r="4"/><circle cx="403" cy="18" r="4"/><text class="n" x="227" y="27">507</text><text class="lb" x="-37" y="23">N36</text></g>
<g transform="translate(2371,1990)"><rect width="453" height="35.6"/><circle cx="18" cy="18" r="4"/><circle cx="403" cy="18" r="4"/><text class="n" x="227" y="27">507</text><text class="lb" x="-37" y="23">N35</text></g>
<g transform="translate(2371,2025.6)"><rect width="453" height="35.6"/><circle cx="18" cy="18" r="4"/><circle cx="403" cy="18" r="4"/><text class="n" x="227" y="27">507</text><text class="lb" x="-37" y="23">N34</text></g>
<g transform="translate(2371,2061.2)"><rect width="453" height="35.6"/><circle cx="18" cy="18" r="4"/><circle cx="403" cy="18" r="4"/><text class="n" x="227" y="27">507</text><text class="lb" x="-37" y="23">N33</text></g>
<g transform="translate(2371,2096.8)"><rect width="453" height="35.6"/><circle cx="18" cy="18" r="4"/><circle cx="403" cy="18" r="4"/><text class="n" x="227" y="27">507</text><text class="lb" x="-37" y="23">N32</text></g>
<g transform="translate(2371,2132.4)"><rect width="453" height="35.6"/><circle cx="18" cy="18" r="4"/><circle cx="403" cy="18" r="4"/><text class="n" x="227" y="27">507</text><text class="lb" x="-37" y="23">N31</text></g>
<g transform="translate(2371,2168)"><rect width="453" height="35.6"/><circle cx="18" cy="18" r="4"/><circle cx="403" cy="18" r="4"/><text class="n" x="227" y="27">507</text><text class="lb" x="-37" y="23">N30</text></g>
<g transform="translate(2371,2203.6)"><rect width="453" height="35.6"/><circle cx="18" cy="18" r="4"/><circle cx="403" cy="18" r="4"/><text class="n" x="227" y="27">507</text><text class="lb" x="-37" y="23">N29</text></g>
<g transform="translate(2371,2239.2)"><rect width="453" height="35.6"/><circle cx="18" cy="18" r="4"/><circle cx="403" cy="18" r="4"/><text class="n" x="227" y="27">507</text><text class="lb" x="-37" y="23">N28</text></g>
<g transform="translate(2371,2274.8)"><rect width="453" height="35.6"/><circle cx="18" cy="18" r="4"/><circle cx="403" cy="18" r="4"/><text class="n" x="227" y="27">507</text><text class="lb" x="-37" y="23">N27</text></g>
<g transform="translate(2371,2310.4)"><rect width="453" height="35.6"/><circle cx="18" cy="18" r="4"/><circle cx="403" cy="18" r="4"/><text class="n" x="227" y="27">507</text><text class="lb" x="-37" y="23">N26</text></g>
<g transform="translate(2371,2346)"><rect width="453" height="35.6"/><circle cx="18" cy="18" r="4"/><circle cx="403" cy="18" r="4"/><text class="n" x="227" y="27">507</text><text class="lb" x="-37" y="23">N25</text></g>
<g transform="translate(2371,2381.6)"><rect width="453" height="35.6"/><circle cx="18" cy="18" r="4"/><circle cx="403" cy="18" r="4"/><text class="n" x="227" y="27">507</text><text class="lb" x="-37" y="23">N24</text></g>
<g transform="translate(2371,2417.2)"><rect width="453" height="35.6"/><circle cx="18" cy="18" r="4"/><circle cx="403" cy="18" r="4"/><text class="n" x="227" y="27">507</text><text class="lb" x="-37" y="23">N23</text></g>
<g transform="translate(2371,2452.8)"><rect width="453" height="35.6"/><circle cx="18" cy="18" r="4"/><circle cx="403" cy="18" r="4"/><text class="n" x="227" y="27">507</text><text class="lb" x="-37" y="23">N22</text></g>
<g transform="translate(2371,2488.4)"><polygon points="0,0 456,0 411,35.6 0,35.6"/><circle cx="18" cy="18" r="4"/><circle cx="403" cy="18" r="4"/><text class="n" x="227" y="27">507</text><text class="lb" x="-37" y="23">N21</text></g>
<!-- N20-N17 -->
<g transform="translate(2373,2524)"><polygon points="0,0 579,0 533,35.6 0,35.6"/><line x1="115" x2="115" y2="35.6"/><ellipse cx="62" cy="18" rx="13" ry="5"/><circle cx="142" cy="18" r="3.5"/><ellipse cx="177" cy="18" rx="13" ry="5"/><circle cx="527" cy="18" r="3.5"/><text class="n" x="267" y="27">597</text><text class="lb" x="-39" y="23">N20</text></g>
<g transform="translate(2373,2559.6)"><rect width="810" height="35.6"/><line x1="115" x2="115" y2="35.6"/><ellipse cx="62" cy="18" rx="13" ry="5"/><ellipse cx="177" cy="18" rx="13" ry="5"/><circle cx="758" cy="18" r="3.5"/><text class="n" x="405" y="27">906</text><text class="lb" x="-39" y="23">N19</text></g>
<g transform="translate(2373,2595.2)"><rect width="1040" height="35.6"/><line x1="115" x2="115" y2="35.6"/><ellipse cx="62" cy="18" rx="13" ry="5"/><ellipse cx="177" cy="18" rx="13" ry="5"/><circle cx="991" cy="18" r="3.5"/><text class="n" x="520" y="27">1164</text><text class="lb" x="-39" y="23">N18</text></g>
<g transform="translate(2373,2630.8)"><rect width="1271" height="35.6"/><line x1="115" x2="115" y2="35.6"/><ellipse cx="62" cy="18" rx="13" ry="5"/><ellipse cx="177" cy="18" rx="13" ry="5"/><circle cx="1222" cy="18" r="3.5"/><text class="n" x="636" y="27">1423</text><text class="lb" x="-39" y="23">N17</text></g>
<!-- N16-N08 -->
<g transform="translate(2373,2666.4)"><rect width="1316" height="35.6"/><circle cx="18" cy="18" r="3.5"/><circle cx="1267" cy="18" r="3.5"/><text class="n" x="658" y="27">1473</text><text class="lb" x="-39" y="23">N16</text></g>
<g transform="translate(2373,2702)"><rect width="1316" height="35.6"/><circle cx="18" cy="18" r="3.5"/><circle cx="1267" cy="18" r="3.5"/><text class="n" x="658" y="27">1473</text><text class="lb" x="-39" y="23">N15</text></g>
<g transform="translate(2373,2737.6)"><rect width="1316" height="35.6"/><circle cx="18" cy="18" r="3.5"/><circle cx="1267" cy="18" r="3.5"/><text class="n" x="658" y="27">1473</text><text class="lb" x="-39" y="23">N14</text></g>
<g transform="translate(2373,2773.2)"><rect width="1316" height="35.6"/><circle cx="18" cy="18" r="3.5"/><circle cx="1267" cy="18" r="3.5"/><text class="n" x="658" y="27">1473</text><text class="lb" x="-39" y="23">N13</text></g>
<g transform="translate(2373,2808.8)"><rect width="1316" height="35.6"/><circle cx="18" cy="18" r="3.5"/><circle cx="1267" cy="18" r="3.5"/><text class="n" x="658" y="27">1473</text><text class="lb" x="-39" y="23">N12</text></g>
<g transform="translate(2373,2844.4)"><rect width="1316" height="35.6"/><circle cx="18" cy="18" r="3.5"/><circle cx="1267" cy="18" r="3.5"/><text class="n" x="658" y="27">1473</text><text class="lb" x="-39" y="23">N11</text></g>
<g transform="translate(2373,2880)"><rect width="1316" height="35.6"/><circle cx="18" cy="18" r="3.5"/><circle cx="1267" cy="18" r="3.5"/><text class="n" x="658" y="27">1473</text><text class="lb" x="-39" y="23">N10</text></g>
<g transform="translate(2373,2915.6)"><rect width="1316" height="35.6"/><circle cx="18" cy="18" r="3.5"/><circle cx="1267" cy="18" r="3.5"/><text class="n" x="658" y="27">1473</text><text class="lb" x="-39" y="23">N09</text></g>
<g transform="translate(2373,2951.2)"><rect width="1316" height="35.6"/><circle cx="18" cy="18" r="3.5"/><circle cx="1267" cy="18" r="3.5"/><text class="n" x="658" y="27">1473</text><text class="lb" x="-39" y="23">N08</text></g>
<!-- N07-N01 -->
<g transform="translate(2325,2986.8)"><rect width="1316" height="35.6"/><circle cx="8" cy="18" r="3.5"/><circle cx="17" cy="18" r="3.5"/><ellipse cx="97" cy="18" rx="13" ry="5"/><circle cx="1268" cy="18" r="3.5"/><text class="n" x="658" y="27">1473</text><text class="lb" x="-110" y="23">N07</text></g>
<g transform="translate(2270,3022.4)"><rect width="1166" height="35.6"/><ellipse cx="50" cy="18" rx="13" ry="5"/><ellipse cx="152" cy="18" rx="13" ry="5"/><circle cx="1117" cy="18" r="3.5"/><text class="n" x="583" y="27">1305</text><text class="lb" x="-55" y="23">N06</text></g>
<g transform="translate(2270,3058)"><rect width="962" height="35.6"/><ellipse cx="50" cy="18" rx="13" ry="5"/><ellipse cx="152" cy="18" rx="13" ry="5"/><circle cx="913" cy="18" r="3.5"/><text class="n" x="481" y="27">1077</text><text class="lb" x="-55" y="23">N05</text></g>
<g transform="translate(2270,3093.6)"><rect width="758" height="35.6"/><ellipse cx="50" cy="18" rx="13" ry="5"/><ellipse cx="152" cy="18" rx="13" ry="5"/><circle cx="709" cy="18" r="3.5"/><text class="n" x="379" y="27">848</text><text class="lb" x="-55" y="23">N04</text></g>
<g transform="translate(2270,3129.2)"><rect width="553" height="35.6"/><ellipse cx="50" cy="18" rx="13" ry="5"/><ellipse cx="152" cy="18" rx="13" ry="5"/><circle cx="504" cy="18" r="3.5"/><text class="n" x="277" y="27">619</text><text class="lb" x="-55" y="23">N03</text></g>
<g transform="translate(2270,3164.8)"><polygon points="0,0 351,0 306,35.6 0,35.6"/><ellipse cx="50" cy="18" rx="13" ry="5"/><ellipse cx="152" cy="18" rx="13" ry="5"/><circle cx="300" cy="18" r="3.5"/><text class="n" x="177" y="27">391</text><text class="lb" x="-55" y="23">N02</text></g>
<g transform="translate(2284,3200.4)"><rect width="146" height="35.6"/><ellipse cx="25" cy="18" rx="12" ry="5"/><ellipse cx="138" cy="18" rx="10" ry="5"/><text class="n" x="73" y="27">162</text><text class="lb" x="-69" y="23">N01</text></g>
<line class="d" x1="2373" y1="2987" x2="2373" y2="3236"/>
<line class="d" x1="2368" y1="1207" x2="2368" y2="1741" style="stroke-dasharray:12 6 3 6"/>

<!-- right side hatches -->
<rect class="h" x="3608" y="1211" width="125" height="26"/><rect class="w" x="3644" y="1211" width="26" height="26"/>
<rect class="h" x="3608" y="1246" width="125" height="26"/><rect class="w" x="3644" y="1246" width="26" height="26"/><rect class="w" x="3717" y="1246" width="8" height="26"/>
<polyline points="3576,1282 3668,1282 3734,1308"/><line x1="3576" y1="1308" x2="3734" y2="1308"/><line x1="3680" y1="1282" x2="3686" y2="1308"/><line class="d" x1="3692" y1="1282" x2="3692" y2="1308"/>
<polygon class="h" points="2108,1209 2269,1209 2269,1234 2130,1234"/><polygon class="w" points="2118,1209 2128,1209 2150,1234 2140,1234"/>
<polygon class="h" points="2108,1637 2275,1637 2275,1662 2108,1662"/><polygon class="w" points="2130,1637 2140,1637 2160,1662 2150,1662"/>
<polygon class="h" points="2108,1672 2275,1672 2275,1697 2108,1697"/><polygon class="w" points="2130,1672 2140,1672 2160,1697 2150,1697"/><rect class="w" x="2185" y="1672" width="6" height="25"/>
<polygon class="h" points="2108,1708 2275,1708 2275,1733 2108,1733"/><polygon class="w" points="2140,1708 2150,1708 2130,1733 2120,1733"/><rect class="w" x="2185" y="1708" width="6" height="25"/>
<polygon class="h" points="2045,2552 2165,2527 2260,2527 2260,2552"/><polygon class="w" points="2110,2552 2180,2527 2195,2527 2125,2552"/><line x1="2185" y1="2527" x2="2185" y2="2552" style="stroke:#fff;stroke-width:3"/>
<polygon class="h" points="2045,2659 2165,2634 2260,2634 2260,2659"/><polygon class="w" points="2110,2659 2180,2634 2195,2634 2125,2659"/>
<polygon class="h" points="2034,2990 2182,2990 2182,3015 2075,3015 2034,3002"/><polygon class="w" points="2060,3000 2080,2990 2120,3015 2100,3015"/>
<polygon class="h" points="2000,3168 2182,3168 2182,3193 2110,3193"/><polygon class="w" points="2050,3168 2070,3168 2140,3193 2122,3193"/>
<polygon class="h" points="2284,3250 2430,3250 2430,3266 2284,3266"/><polygon class="w" points="2330,3250 2345,3250 2370,3266 2355,3266"/><rect class="w" x="2378" y="3250" width="6" height="16"/>
</svg>
</body></html>
